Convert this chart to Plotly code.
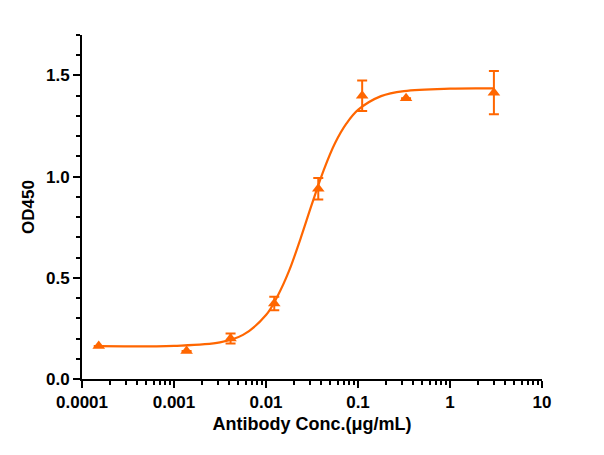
import plotly.graph_objects as go

# Measured data (mean ± error)
conc = [0.000152, 0.00137, 0.00412, 0.0123, 0.037, 0.111, 0.333, 3.0]
od450 = [0.163, 0.138, 0.200, 0.373, 0.940, 1.400, 1.387, 1.415]
od_err = [0.0, 0.0, 0.025, 0.033, 0.053, 0.075, 0.0, 0.107]

# Fitted curve
fit_x = [0.000152, 0.001, 0.00316, 0.00562, 0.01, 0.0133, 0.0178, 0.0237,
         0.0316, 0.0422, 0.0562, 0.075, 0.1, 0.178, 0.316, 1.0, 3.0]
fit_y = [0.162, 0.164, 0.181, 0.218, 0.316, 0.408, 0.534, 0.693,
         0.865, 1.030, 1.165, 1.263, 1.330, 1.398, 1.423, 1.435, 1.436]

x_major = [0.0001, 0.001, 0.01, 0.1, 1, 10]
x_major_text = ["0.0001", "0.001", "0.01", "0.1", "1", "10"]
x_minor = [m * d for d in [0.0001, 0.001, 0.01, 0.1, 1] for m in range(2, 10)]

color = "#FF6600"

fig = go.Figure()
fig.add_trace(go.Scatter(
    x=fit_x, y=fit_y, mode="lines",
    line=dict(color=color, width=2.2, shape="spline", smoothing=1.0),
    hoverinfo="skip", showlegend=False))
fig.add_trace(go.Scatter(
    x=conc, y=od450, mode="markers",
    marker=dict(symbol="triangle-up", size=11, color=color),
    error_y=dict(type="data", array=od_err, visible=True, color=color,
                 thickness=2, width=5),
    showlegend=False))

font_family = "Liberation Sans, Arial, sans-serif"
fig.update_layout(
    width=604, height=455,
    margin=dict(l=74, r=70, t=27, b=84),
    plot_bgcolor="white", paper_bgcolor="white",
    font=dict(family=font_family, color="black"),
    xaxis=dict(
        type="log", range=[-4, 1],
        tickmode="array", tickvals=x_major, ticktext=x_major_text,
        ticks="outside", ticklen=7, tickwidth=2, tickcolor="black",
        showline=True, linecolor="black", linewidth=2,
        showgrid=False, zeroline=False,
        tickfont=dict(size=17, family=font_family, weight="bold"),
        minor=dict(tickmode="array", tickvals=x_minor, ticks="outside",
                   ticklen=4, tickwidth=2, tickcolor="black", showgrid=False),
        title=dict(text="Antibody Conc.(μg/mL)", standoff=6,
                   font=dict(size=18, family=font_family, weight="bold")),
    ),
    yaxis=dict(
        range=[0, 1.7],
        tickmode="array", tickvals=[0, 0.5, 1.0, 1.5],
        tickformat=".1f",
        ticks="outside", ticklen=7, tickwidth=2, tickcolor="black",
        showline=True, linecolor="black", linewidth=2,
        showgrid=False, zeroline=False,
        tickfont=dict(size=17, family=font_family, weight="bold"),
        minor=dict(dtick=0.1, tick0=0, ticks="outside", ticklen=4,
                   tickwidth=2, tickcolor="black", showgrid=False),
        title=dict(text="OD450", standoff=7,
                   font=dict(size=17, family=font_family, weight="bold")),
    ),
)

fig.write_html("out.html")
